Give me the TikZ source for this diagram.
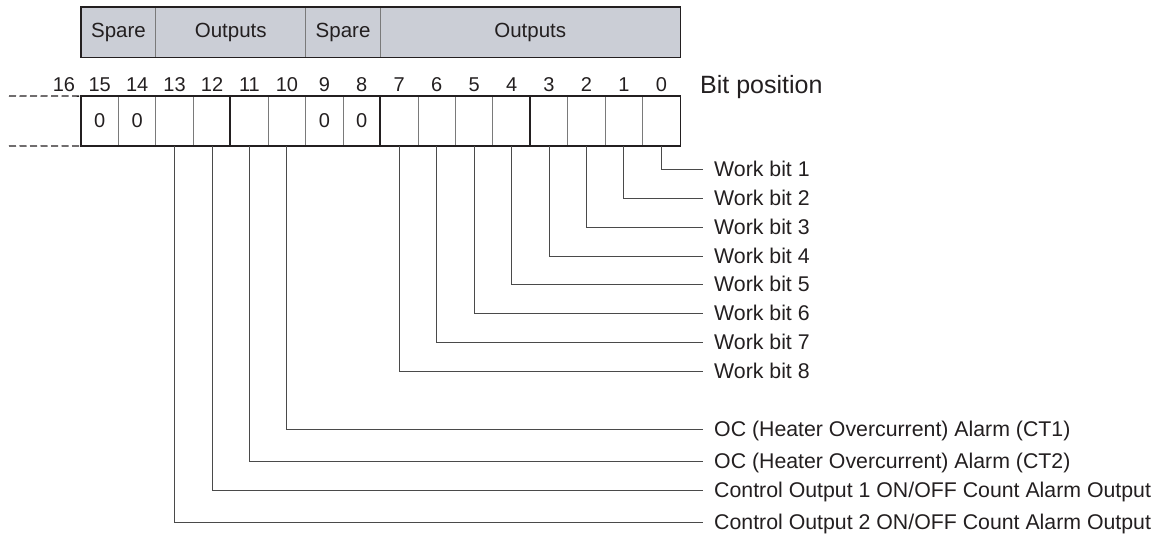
\documentclass[tikz,border=0pt]{standalone}
\usepackage{fontspec}
\setmainfont{Liberation Sans}
\definecolor{ink}{HTML}{231F20}
\definecolor{hdrfill}{HTML}{CBCED6}
\definecolor{thin}{HTML}{7A7A7A}
\definecolor{conn}{HTML}{4A4A4A}
\begin{document}
\begin{tikzpicture}[x=1pt,y=-1pt,
  every node/.style={text=ink},
  cellbox/.style={draw=thin,line width=0.8pt,minimum width=37.44pt,minimum height=49pt,inner sep=0pt,font=\fontsize{20}{20}\selectfont},
  zerotext/.style={inner sep=0pt,font=\fontsize{20}{20}\selectfont},
  hdrbox/.style={draw=thin,line width=0.8pt,fill=hdrfill,minimum height=50pt,inner sep=0pt,font=\fontsize{20.5}{20.5}\selectfont},
  bitnum/.style={anchor=base,inner sep=0pt,font=\fontsize{20}{20}\selectfont},
  worklabel/.style={anchor=west,inner sep=0pt,text height=15pt,text depth=0pt,font=\fontsize{21.3}{21.3}\selectfont},
  connector/.style={draw=conn,line width=0.9pt},
  outline/.style={draw=ink,line width=1.8pt},
  dashline/.style={draw=ink,line width=1.3pt,dash pattern=on 7pt off 3.5pt}]
\useasboundingbox (0,0) rectangle (1167,539);
% header
\node[hdrbox,minimum width=74.88pt] (hspare1) at (118.44,32) {Spare};
\node[hdrbox,minimum width=149.76pt] (hout1) at (230.76,32) {Outputs};
\node[hdrbox,minimum width=74.88pt] (hspare2) at (343.08,32) {Spare};
\node[hdrbox,minimum width=299.52pt] (hout2) at (530.28,32) {Outputs};
\draw[outline] (hspare1.north west) rectangle (hout2.south east);
% bit numbers and cells
\foreach \b in {0,...,15}{
  \pgfmathsetmacro{\cx}{81+(15-\b+0.5)*37.44}
  \node[cellbox] (c\b) at (\cx,121) {};
  \node[bitnum] (n\b) at (\cx,91) {\b};
}
\node[bitnum] (n16) at (64,91) {16};
\node[zerotext] (z15) at (c15) {0};
\node[zerotext] (z14) at (c14) {0};
\node[zerotext] (z9) at (c9) {0};
\node[zerotext] (z8) at (c8) {0};
\node[anchor=base west,inner sep=0pt,font=\fontsize{25}{25}\selectfont] (bitpos) at (700,93) {Bit position};
\draw[outline] (c15.north west) rectangle (c0.south east);
\draw[outline] (c11.north west) -- (c11.south west);
\draw[outline] (c7.north west) -- (c7.south west);
\draw[outline] (c3.north west) -- (c3.south west);
\coordinate (dl1) at (9,96);
\coordinate (dl2) at (9,146);
\draw[dashline] (dl1) -- (c15.north west);
\draw[dashline] (dl2) -- (c15.south west);
% labels
\node[worklabel] (l0) at (714,169) {Work bit 1};
\node[worklabel] (l1) at (714,198) {Work bit 2};
\node[worklabel] (l2) at (714,227) {Work bit 3};
\node[worklabel] (l3) at (714,256) {Work bit 4};
\node[worklabel] (l4) at (714,284) {Work bit 5};
\node[worklabel] (l5) at (714,313) {Work bit 6};
\node[worklabel] (l6) at (714,342) {Work bit 7};
\node[worklabel] (l7) at (714,371) {Work bit 8};
\node[worklabel] (l10) at (714,429) {OC (Heater Overcurrent) Alarm (CT1)};
\node[worklabel] (l11) at (714,461) {OC (Heater Overcurrent) Alarm (CT2)};
\node[worklabel] (l12) at (714,490) {Control Output 1 ON/OFF Count Alarm Output};
\node[worklabel] (l13) at (714,522) {Control Output 2 ON/OFF Count Alarm Output};
\foreach \b in {0,1,2,3,4,5,6,7,10,11,12,13}{
  \draw[connector] (c\b.south) |- ([xshift=-11pt]l\b.west);
}
\end{tikzpicture}
\end{document}
